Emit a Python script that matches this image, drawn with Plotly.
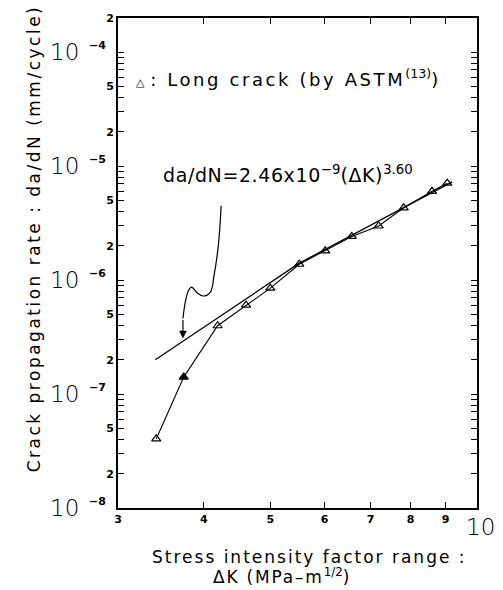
import numpy as np
import plotly.graph_objects as go

# ---- data ----
dk_long = [3.41, 3.74, 4.19, 4.61, 5.00, 5.51, 6.01, 6.57, 7.19, 7.82, 8.60, 9.05]
dadn_long = [4.04e-8, 1.41e-7, 3.98e-7, 6.03e-7, 8.51e-7, 1.38e-6, 1.81e-6,
             2.42e-6, 2.99e-6, 4.32e-6, 6.03e-6, 7.11e-6]
filled_index = [1]

# fit line as drawn in the reference (slightly bent in the scan)
fit_dk = [3.40, 5.51, 9.2]
fit_dadn = [2.0e-7, 1.41e-6, 7.3e-6]

arrow_dk = [4.24, 4.20, 4.14, 4.09, 3.99, 3.91, 3.84, 3.80, 3.76, 3.73, 3.73]
arrow_dadn = [4.49e-6, 2.01e-6, 1.10e-6, 7.87e-7, 7.26e-7, 7.76e-7, 8.69e-7,
              8.13e-7, 6.44e-7, 4.61e-7, 3.07e-7]

x_ticks = [3, 4, 5, 6, 7, 8, 9]
y_decades = [-8, -7, -6, -5, -4]
y_top = 2e-4

# ---- layout helpers (pixel geometry) ----
W, H = 503, 590
L, R, T, B = 118, 477, 12, 508
def px(xp):
    return (xp - L) / (R - L)
def py(yp):
    return (B - yp) / (B - T)

FONT = "DejaVu Sans"
def spaced(s, sp):
    return "<span style='letter-spacing:%spx'>%s</span>" % (sp, s)

fig = go.Figure()

fig.add_trace(go.Scatter(
    x=fit_dk, y=fit_dadn, mode="lines",
    line=dict(color="black", width=1.3), hoverinfo="skip", showlegend=False))

symbols = ["triangle-up" if i in filled_index else "triangle-up-open"
           for i in range(len(dk_long))]
fig.add_trace(go.Scatter(
    x=dk_long, y=dadn_long, mode="lines+markers",
    line=dict(color="black", width=1.1),
    marker=dict(symbol=symbols, size=8, color="black", line=dict(width=1.2, color="black")),
    showlegend=False))

fig.add_trace(go.Scatter(
    x=arrow_dk[:-1], y=arrow_dadn[:-1], mode="lines",
    line=dict(color="black", width=1.2, shape="spline", smoothing=1.0),
    hoverinfo="skip", showlegend=False))

annotations = []
# arrow head
annotations.append(dict(
    x=np.log10(arrow_dk[-1]), y=np.log10(arrow_dadn[-1]),
    ax=np.log10(arrow_dk[-2]), ay=np.log10(arrow_dadn[-2]),
    xref="x", yref="y", axref="x", ayref="y", text="",
    showarrow=True, arrowhead=2, arrowsize=1.3, arrowwidth=1.2, arrowcolor="black",
    standoff=0, startstandoff=0))

# y decade labels
for d in y_decades:
    annotations.append(dict(
        x=px(81), y=d, xref="paper", yref="y", text="10",
        showarrow=False, xanchor="right", yanchor="middle",
        font=dict(family=FONT, size=23, color="black", weight=200)))
    annotations.append(dict(
        x=px(87), y=d, xref="paper", yref="y", text="\u2212" + str(-d),
        showarrow=False, xanchor="left", yanchor="middle", yshift=7,
        font=dict(family=FONT, size=11, color="black", weight="bold")))

# x "10" label
annotations.append(dict(
    x=px(497), y=py(527), xref="paper", yref="paper", text="10",
    showarrow=False, xanchor="right", yanchor="middle",
    font=dict(family=FONT, size=23, color="black", weight=200)))

# legend text
annotations.append(dict(
    x=px(134), y=py(73), xref="paper", yref="paper",
    text="<span style='font-size:11px'>\u25b3</span> " +
         spaced(": Long crack (by ASTM", 2.6) + "<sup>(13)</sup>)",
    showarrow=False, xanchor="left", yanchor="middle",
    font=dict(family=FONT, size=18, color="black")))

# equation
annotations.append(dict(
    x=px(161), y=py(170), xref="paper", yref="paper",
    text=spaced("da/dN=2.46x10", 0.6) + "<sup>\u22129</sup>" +
         spaced("(\u0394K)", 0.6) + "<sup>3.60</sup>",
    showarrow=False, xanchor="left", yanchor="middle",
    font=dict(family=FONT, size=19, color="black")))

# x title
annotations.append(dict(
    x=px(309), y=py(558), xref="paper", yref="paper",
    text=spaced("Stress intensity factor range :", 2),
    showarrow=False, xanchor="center", yanchor="middle",
    font=dict(family=FONT, size=17, color="black")))
annotations.append(dict(
    x=px(281), y=py(577), xref="paper", yref="paper",
    text=spaced("\u0394K (MPa\u2013m", 1.8) + "<sup>1/2</sup>)",
    showarrow=False, xanchor="center", yanchor="middle",
    font=dict(family=FONT, size=17, color="black")))

# y title
annotations.append(dict(
    x=px(34), y=py(235), xref="paper", yref="paper",
    text=spaced("Crack propagation rate : da/dN (mm/cycle)", 2.5),
    textangle=-90, showarrow=False, xanchor="center", yanchor="middle",
    font=dict(family=FONT, size=17, color="black")))

# y ticks
y_tickvals, y_ticktext = [], []
for d in y_decades:
    for k in range(1, 10):
        y_tickvals.append(k * 10.0 ** d)
        y_ticktext.append(str(k) if k in (2, 5) else "")
y_tickvals.append(y_top)
y_ticktext.append("2")

fig.update_layout(
    width=W, height=H,
    margin=dict(l=L, r=W - R, t=T, b=H - B),
    paper_bgcolor="white", plot_bgcolor="white",
    annotations=annotations,
    xaxis=dict(
        type="log", range=[np.log10(3), 1.0],
        tickvals=x_ticks, ticktext=[str(v) for v in x_ticks],
        ticks="inside", ticklen=6, tickwidth=1.2, tickcolor="black",
        showline=True, linecolor="black", linewidth=2, mirror="ticks",
        showgrid=False, zeroline=False,
        tickfont=dict(family=FONT, size=11, color="black", weight="bold")),
    yaxis=dict(
        type="log", range=[-8, np.log10(y_top) + 0.0005],
        tickvals=y_tickvals, ticktext=y_ticktext,
        ticks="inside", ticklen=6, tickwidth=1.2, tickcolor="black",
        showline=True, linecolor="black", linewidth=2, mirror="ticks",
        showgrid=False, zeroline=False,
        tickfont=dict(family=FONT, size=11, color="black", weight="bold")),
)

fig.write_html("out.html")
